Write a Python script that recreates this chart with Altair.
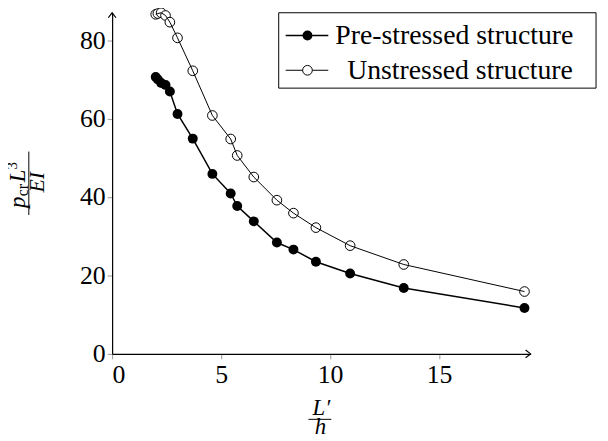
import altair as alt
import pandas as pd

# ---- data ----
ratio = [2.0, 2.1, 2.25, 2.45, 2.65, 3.0, 3.7, 4.6, 5.44, 5.74, 6.5, 7.56, 8.32, 9.35, 10.92, 13.38, 18.92]
prestressed = [70.6, 70.0, 69.1, 68.6, 66.9, 61.2, 54.9, 45.9, 40.9, 37.7, 33.8, 28.4, 26.6, 23.5, 20.5, 16.8, 11.7]
unstressed = [86.6, 86.8, 87.0, 86.3, 84.6, 80.6, 72.2, 60.8, 54.8, 50.6, 45.1, 39.2, 35.9, 32.2, 27.6, 22.8, 15.9]
series_names = ["Pre-stressed structure", "Unstressed structure"]
x_ticks = [0, 5, 10, 15]
y_ticks = [0, 20, 40, 60, 80]

W, H = 422, 344
FONT = "Liberation Serif"

pre_df = pd.DataFrame({"x": ratio, "y": prestressed, "i": range(len(ratio))})
un_df = pd.DataFrame({"x": ratio, "y": unstressed, "i": range(len(ratio))})

xs = alt.Scale(domain=[0, 19.2], nice=False, zero=False)
ys = alt.Scale(domain=[0, 87], nice=False, zero=False)
xax = alt.Axis(values=x_ticks, title=None, grid=False, domainColor="black", domainWidth=1.2,
               tickColor="#999999", tickSize=5, labelFont=FONT, labelFontSize=26,
               labelColor="black", labelPadding=3)
yax = alt.Axis(values=y_ticks, title=None, grid=False, domainColor="black", domainWidth=1.2,
               tickColor="#999999", tickSize=5, labelFont=FONT, labelFontSize=26,
               labelColor="black", labelPadding=2)

def enc(ch):
    return ch.encode(x=alt.X("x:Q", scale=xs, axis=xax), y=alt.Y("y:Q", scale=ys, axis=yax),
                     order="i:Q")

un_pts = enc(alt.Chart(un_df).mark_point(shape="circle", size=95, filled=True, fill="white",
                                         stroke="black", strokeWidth=1, opacity=1))
un_line = enc(alt.Chart(un_df).mark_line(color="black", strokeWidth=1))
pre_pts = enc(alt.Chart(pre_df).mark_point(shape="circle", size=100, filled=True, color="black", opacity=1))
pre_line = enc(alt.Chart(pre_df).mark_line(color="black", strokeWidth=1.5))

one = pd.DataFrame({"k": [0]})
ann = alt.Chart(one)

# axis arrowheads
x_arrow = ann.mark_point(shape="M-1.3,-1L0,0L-1.3,1", size=60, filled=False, stroke="black",
                         strokeWidth=1.2, opacity=1).encode(x=alt.value(W), y=alt.value(H))
y_arrow = ann.mark_point(shape="M-1,1.3L0,0L1,1.3", size=60, filled=False, stroke="black",
                         strokeWidth=1.2, opacity=1).encode(x=alt.value(0), y=alt.value(0))

# legend
leg_box = ann.mark_rect(fill="white", stroke="black", strokeWidth=1).encode(
    x=alt.value(168), x2=alt.value(488), y=alt.value(0), y2=alt.value(76))
leg_line1 = ann.mark_rule(color="black", strokeWidth=1.5).encode(
    x=alt.value(175), x2=alt.value(218), y=alt.value(23))
leg_pt1 = ann.mark_point(shape="circle", size=100, filled=True, color="black", opacity=1).encode(
    x=alt.value(197), y=alt.value(23))
leg_txt1 = ann.mark_text(align="left", baseline="middle", font=FONT, fontSize=28, color="black").encode(
    x=alt.value(225), y=alt.value(24), text=alt.value(series_names[0]))
leg_line2 = ann.mark_rule(color="black", strokeWidth=1).encode(
    x=alt.value(175), x2=alt.value(218), y=alt.value(58))
leg_pt2 = ann.mark_point(shape="circle", size=95, filled=True, fill="white", stroke="black",
                         strokeWidth=1, opacity=1).encode(x=alt.value(197), y=alt.value(58))
leg_txt2 = ann.mark_text(align="left", baseline="middle", font=FONT, fontSize=28, color="black").encode(
    x=alt.value(237), y=alt.value(59), text=alt.value(series_names[1]))

# y title: p_cr L^3 / EI (rotated)
def rtxt(s, x, y, size, style="italic", align="left"):
    return ann.mark_text(angle=270, align=align, baseline="alphabetic", font=FONT, fontSize=size,
                         fontStyle=style, color="black").encode(
        x=alt.value(x), y=alt.value(y), text=alt.value(s))

yt = [
    rtxt("p", -88, 197, 23),
    rtxt("cr", -84.5, 185, 16, style="normal"),
    rtxt("L", -88, 171, 23),
    rtxt("3", -96, 158, 15, style="normal"),
    rtxt("EI", -69, 171, 22, align="center"),
    ann.mark_rule(color="black", strokeWidth=1).encode(
        x=alt.value(-84), y=alt.value(140), y2=alt.value(204)),
]

# x title: L'/h
def htxt(s, x, y, size, style="italic"):
    return ann.mark_text(align="center", baseline="alphabetic", font=FONT, fontSize=size,
                         fontStyle=style, color="black").encode(
        x=alt.value(x), y=alt.value(y), text=alt.value(s))

xt = [
    htxt("L\u2032", 211, 406, 23),
    ann.mark_rule(color="black", strokeWidth=1).encode(
        x=alt.value(198), x2=alt.value(221), y=alt.value(410)),
    htxt("h", 210, 425, 23),
]

chart = alt.layer(
    un_pts, un_line, pre_line, pre_pts, x_arrow, y_arrow,
    leg_box, leg_line1, leg_pt1, leg_txt1, leg_line2, leg_pt2, leg_txt2,
    *yt, *xt
).properties(
    width=W, height=H,
    autosize=alt.AutoSizeParams(type="none"),
    padding={"left": 105, "top": 3, "right": 70, "bottom": 80},
).configure_view(stroke=None)

chart.save("out.html", embed_options={"renderer": "svg", "actions": False})
